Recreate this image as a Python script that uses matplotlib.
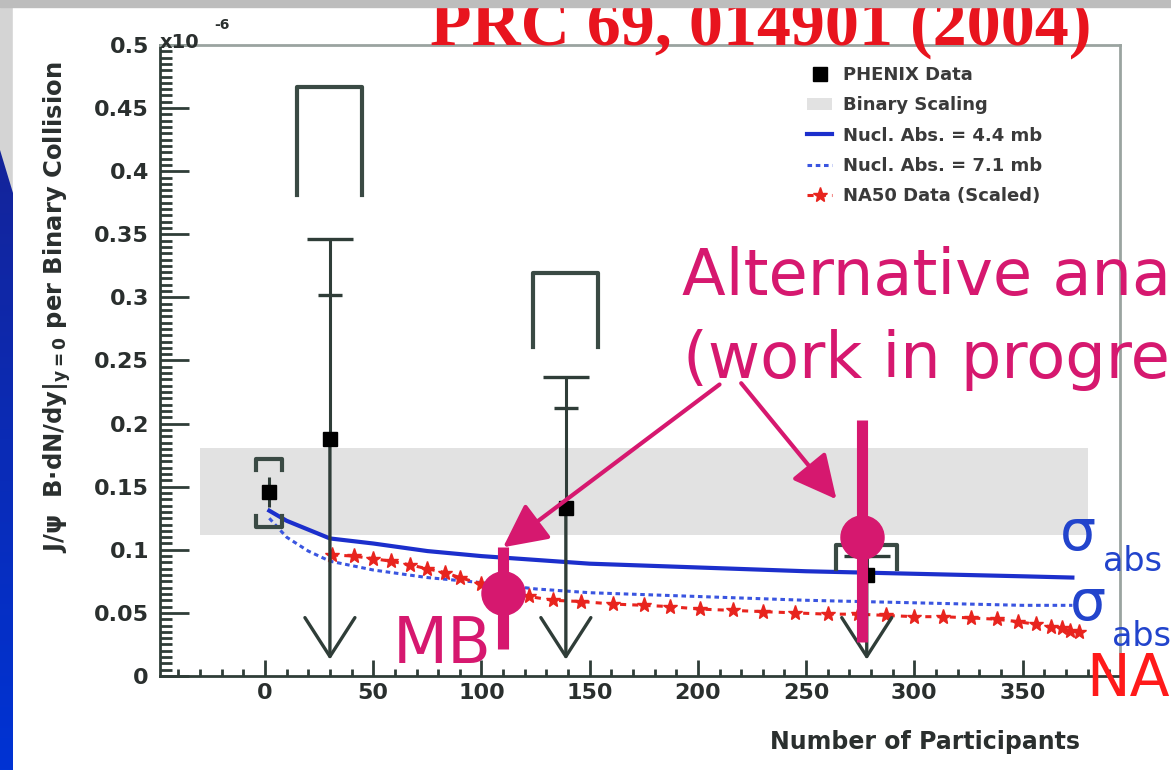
import matplotlib.pyplot as plt
import numpy as np
from matplotlib.colors import LinearSegmentedColormap
from matplotlib.patches import Polygon, Rectangle
from matplotlib.ticker import FuncFormatter, MultipleLocator

W, H = 1171, 770

# PHENIX J/psi points (p+p and Au+Au centrality classes)
npart = [2, 30, 139, 278]
jpsi = [0.146, 0.188, 0.133, 0.080]
err_top = [0.158, 0.346, 0.237, 0.095]
err_mid = [np.nan, 0.302, 0.212, np.nan]
err_bot = [0.134, 0.013, 0.013, 0.013]
upper_limit = [False, True, True, True]
sys_top = [0.172, 0.467, 0.319, 0.104]
sys_top_leg = [0.163, 0.381, 0.261, 0.085]
sys_bot = [0.118, np.nan, np.nan, np.nan]
sys_bot_leg = [0.127, np.nan, np.nan, np.nan]
sys_dx = [6, 15, 15, 14]

# binary scaling band
band_x = [-30, 380]
band_lo, band_hi = 0.112, 0.181

# nuclear absorption curves
abs_npart = [2, 10, 20, 30, 50, 75, 100, 125, 150, 200, 250, 300, 350, 373]
abs_44 = [0.131, 0.123, 0.116, 0.109, 0.105, 0.099, 0.095, 0.092, 0.089,
          0.086, 0.083, 0.081, 0.079, 0.078]
abs_71 = [0.125, 0.110, 0.099, 0.091, 0.084, 0.078, 0.074, 0.069, 0.066,
          0.063, 0.060, 0.058, 0.056, 0.056]

# NA50 data (scaled)
na50_npart = [31, 41, 50, 58, 67, 75, 83, 90, 100, 110, 122, 133, 146, 161,
              175, 187, 201, 216, 230, 245, 260, 274, 287, 300, 313, 326,
              338, 348, 356, 363, 368, 372, 376]
na50 = [0.096, 0.095, 0.093, 0.091, 0.088, 0.085, 0.082, 0.078, 0.073,
        0.068, 0.063, 0.060, 0.059, 0.057, 0.056, 0.055, 0.053, 0.052,
        0.051, 0.050, 0.049, 0.049, 0.048, 0.047, 0.047, 0.046, 0.045,
        0.043, 0.041, 0.039, 0.038, 0.036, 0.035]

# alternative analysis (work in progress)
alt_npart = [110, 276]
alt_y = [0.066, 0.110]
alt_lo = [0.021, 0.027]
alt_hi = [0.102, 0.203]
note_from = [(210, 0.231), (220, 0.232)]

EC = "#2f3d38"
MAG = "#d6186f"
BLUE = "#1c2fcc"

fig = plt.figure(figsize=(W / 100, H / 100), dpi=100)

# slide background
bg = fig.add_axes([0, 0, 1, 1], zorder=-10)
bg.axis("off")
bg.add_patch(Rectangle((0, 0), W, H, color="#d4d4d4", zorder=0))
bg.add_patch(Rectangle((13, 7), W - 13, H - 7, color="white", zorder=0))
wedge = Polygon([(0, 150), (13, 193), (13, H), (0, H)], closed=True,
                facecolor="none", edgecolor="none")
bg.add_patch(wedge)
blues = LinearSegmentedColormap.from_list("slide", ["#14249a", "#0033d4"])
im = bg.imshow(np.linspace(0, 1, 256)[:, None], extent=(0, 13, H, 150),
               cmap=blues, aspect="auto", zorder=2)
im.set_clip_path(wedge)
bg.set_xlim(0, W)
bg.set_ylim(H, 0)

ax = fig.add_axes([160 / W, 1 - 676 / H, 960 / W, 631 / H])
ax.set_xlim(-48.5, 395)
ax.set_ylim(0, 0.5)

band = ax.fill_between(band_x, band_lo, band_hi, color="#e2e2e2", lw=0,
                       zorder=1)

l44, = ax.plot(abs_npart, abs_44, color=BLUE, lw=3, zorder=3)
l71, = ax.plot(abs_npart, abs_71, color="#3a55e0", lw=2.2,
               ls=(0, (1.5, 1.2)), zorder=3)
stars, = ax.plot(na50_npart, na50, color="#e8241e", ls=(0, (2, 2)), lw=2.2,
                 marker="*", ms=11, zorder=3)

# PHENIX error bars, systematics and upper limits
for i, x in enumerate(npart):
    lo = jpsi[i] if upper_limit[i] else err_bot[i]
    ax.vlines(x, lo, err_top[i], color=EC, lw=2.2, zorder=4)
    if upper_limit[i]:
        ax.plot(x, err_top[i], marker="_", ms=33, mew=2.4, color=EC, zorder=4)
        ax.plot(x, err_mid[i], marker="_", ms=17, mew=2.4, color=EC, zorder=4)
        ax.annotate("", xy=(x, err_bot[i]), xytext=(x, jpsi[i]),
                    arrowprops=dict(arrowstyle="->,head_length=1.4,head_width=0.9",
                                    mutation_scale=20, lw=2.4, color=EC,
                                    shrinkA=0, shrinkB=0), zorder=4)
    dx = sys_dx[i]
    ax.plot([x - dx, x - dx, x + dx, x + dx],
            [sys_top_leg[i], sys_top[i], sys_top[i], sys_top_leg[i]],
            color="#3a4a44", lw=3, zorder=4)
    if not np.isnan(sys_bot[i]):
        ax.plot([x - dx, x - dx, x + dx, x + dx],
                [sys_bot_leg[i], sys_bot[i], sys_bot[i], sys_bot_leg[i]],
                color="#3a4a44", lw=3, zorder=4)
pts, = ax.plot(npart, jpsi, "s", color="black", ms=10, zorder=5)

# alternative analysis overlay
ax.vlines(alt_npart, alt_lo, alt_hi, color=MAG, lw=8, zorder=7)
ax.plot(alt_npart, alt_y, "o", color=MAG, ms=31, zorder=7)
tips = [(alt_npart[0], alt_hi[0]), (alt_npart[1] - 12, alt_y[1] + 0.03)]
for start, tip in zip(note_from, tips):
    ax.annotate("", xy=tip, xytext=start, annotation_clip=False,
                arrowprops=dict(arrowstyle="-|>,head_length=0.9,head_width=0.45",
                                mutation_scale=30, lw=3, color=MAG,
                                shrinkA=0, shrinkB=0), zorder=8)

# axes styling
for side in ("left", "bottom"):
    ax.spines[side].set_color(EC)
    ax.spines[side].set_linewidth(2)
for side in ("top", "right"):
    ax.spines[side].set_color("#9aa4a0")
    ax.spines[side].set_linewidth(2)
ax.xaxis.set_major_locator(MultipleLocator(50))
ax.xaxis.set_minor_locator(MultipleLocator(10))
ax.yaxis.set_major_locator(MultipleLocator(0.05))
ax.yaxis.set_minor_locator(MultipleLocator(0.005))
ax.yaxis.set_major_formatter(FuncFormatter(lambda v, p: f"{v:g}"))
ax.tick_params(axis="both", which="both", direction="in", color=EC,
               width=2, labelcolor="#2a2f2e", labelsize=16)
ax.tick_params(axis="x", which="major", length=11.5, pad=5)
ax.tick_params(axis="x", which="minor", length=5)
ax.tick_params(axis="y", which="major", length=21, pad=8)
ax.tick_params(axis="y", which="minor", length=8.5)
for lab in ax.get_xticklabels() + ax.get_yticklabels():
    lab.set_fontweight("bold")

fig.text(925 / W, 1 - 742 / H, "Number of Participants", ha="center",
         va="center", fontsize=17, fontweight="bold", color="#2a2f2e")
fig.text(57 / W, 1 - 307 / H,
         r"J/ψ  B·dN/dy$\mathbf{|_{y=0}}$ per Binary Collision",
         rotation=90, ha="center", va="center", fontsize=17.5,
         fontweight="bold", color="#2a2f2e")
fig.text(160 / W, 1 - 48 / H, "x10", fontsize=14, fontweight="bold",
         color="#2a2f2e", va="baseline")
fig.text(214 / W, 1 - 29 / H, "-6", fontsize=10, fontweight="bold",
         color="#2a2f2e", va="baseline")

ax.legend([pts, band, l44, l71, stars],
          ["PHENIX Data", "Binary Scaling", "Nucl. Abs. = 4.4 mb",
           "Nucl. Abs. = 7.1 mb", "NA50 Data (Scaled)"],
          loc="upper left", bbox_to_anchor=(798 / W, 1 - 57 / H),
          bbox_transform=fig.transFigure, frameon=False, handlelength=1.4,
          handletextpad=0.6, borderpad=0, labelspacing=0.68,
          labelcolor="#3a3a3a", prop=dict(weight="bold", size=13))

# slide annotations
fig.text(430 / W, 1 - 45 / H, "PRC 69, 014901 (2004)", family="Liberation Serif",
         fontweight="bold", fontsize=49, color="#e8141e", va="baseline")
fig.add_artist(Rectangle((0, 1 - 7 / H), 1, 7 / H, transform=fig.transFigure,
                         color="#bdbdbd", zorder=20))
fig.text(682 / W, 1 - 295 / H, "Alternative ana", fontsize=46, color=MAG,
         va="baseline")
fig.text(683 / W, 1 - 378 / H, "(work in progre", fontsize=46, color=MAG,
         va="baseline")
fig.text(393 / W, 1 - 663 / H, "MB", fontsize=46, color=MAG, va="baseline")
fig.text(1060 / W, 1 - 550 / H, "σ", fontsize=41, color="#2244cc", va="baseline")
fig.text(1103 / W, 1 - 571 / H, "abs", fontsize=24, color="#2244cc", va="baseline")
fig.text(1070 / W, 1 - 620 / H, "σ", fontsize=41, color="#2244cc", va="baseline")
fig.text(1112 / W, 1 - 646 / H, "abs", fontsize=24, color="#2244cc", va="baseline")
fig.text(1086 / W, 1 - 696 / H, "NA", fontsize=42, color="#ff1a1a", va="baseline")

fig.savefig("out.png", dpi=100)
plt.close(fig)
